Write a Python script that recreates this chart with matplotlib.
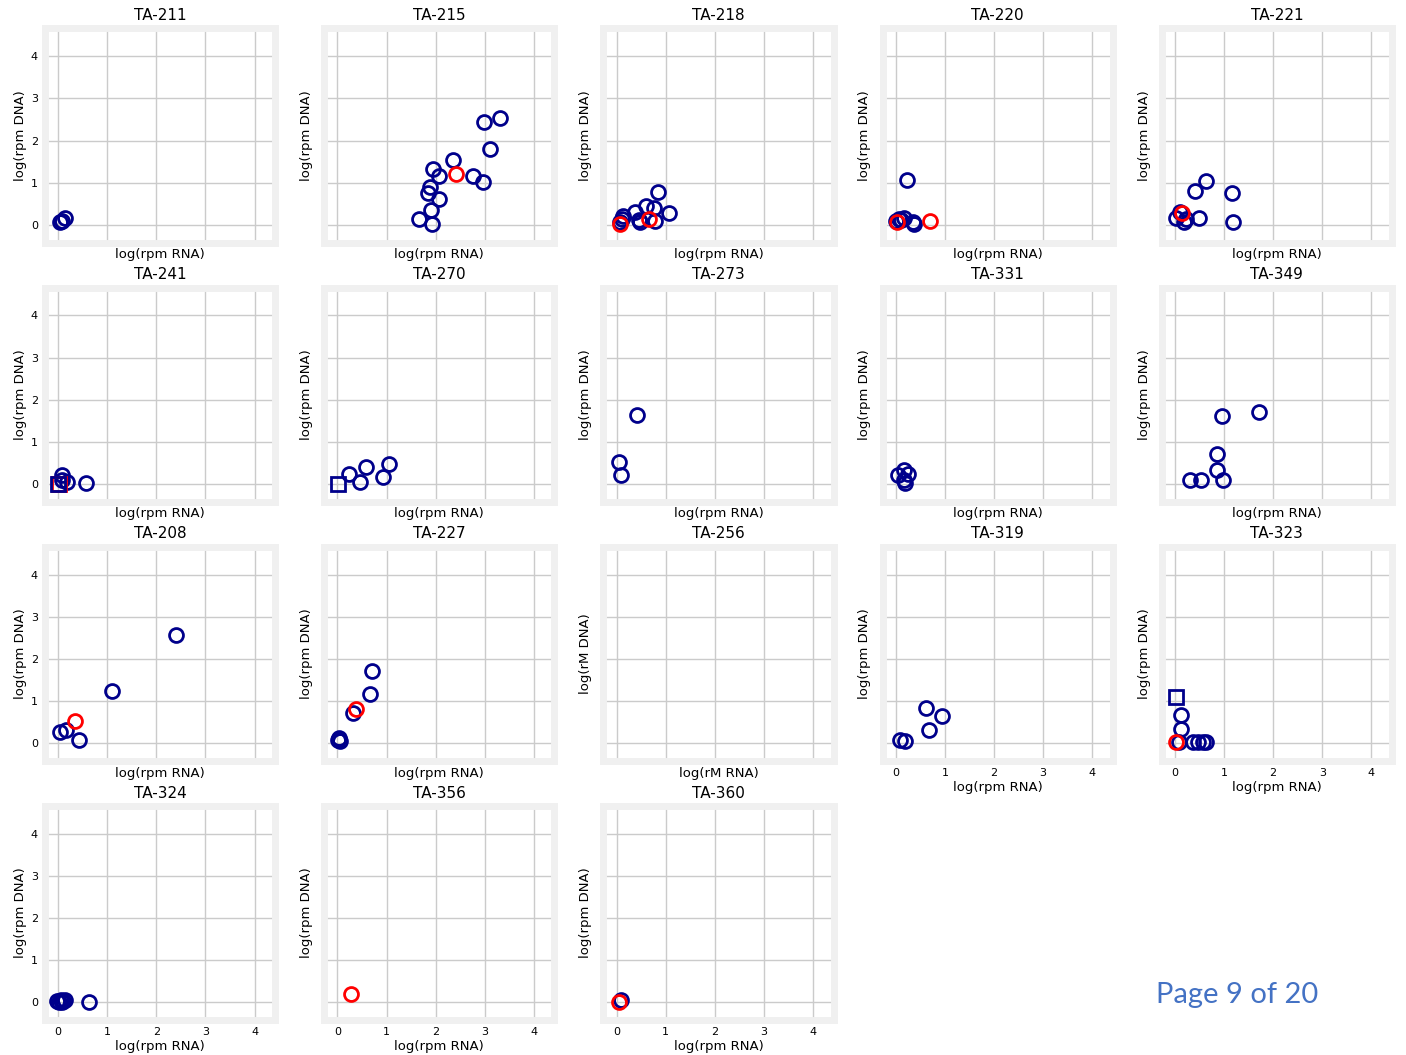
import matplotlib
matplotlib.use("Agg")
import matplotlib.pyplot as plt

# sample ids, in grid order
samples = ["TA-211", "TA-215", "TA-218", "TA-220", "TA-221",
           "TA-241", "TA-270", "TA-273", "TA-331", "TA-349",
           "TA-208", "TA-227", "TA-256", "TA-319", "TA-323",
           "TA-324", "TA-356", "TA-360"]

# units used in the axis labels
units = ["rpm"] * 12 + ["rM"] + ["rpm"] * 5

# log(rpm RNA) / log(rpm DNA) for the blue circles
rna_blue = [
    [0.03, 0.07, 0.13],
    [2.99, 3.32, 3.10, 2.36, 2.77, 2.97, 1.94, 2.06, 1.88, 1.85, 2.07, 1.91, 1.66, 1.92],
    [0.85, 0.60, 0.77, 1.07, 0.38, 0.12, 0.10, 0.45, 0.47, 0.78, 0.06],
    [0.22, 0.00, 0.17, 0.10, 0.34, 0.38, 0.06],
    [0.64, 0.41, 1.17, 0.10, 0.01, 0.22, 0.48, 0.19, 1.19],
    [0.07, 0.17, 0.08, 0.56],
    [0.24, 0.46, 0.58, 0.93, 1.05],
    [0.04, 0.08, 0.41],
    [0.05, 0.17, 0.25, 0.17, 0.19],
    [1.72, 0.96, 0.85, 0.86, 0.30, 0.52, 0.98],
    [2.40, 1.09, 0.04, 0.16, 0.43],
    [0.70, 0.66, 0.31, 0.04, 0.06, 0.02],
    [],
    [0.62, 0.95, 0.68, 0.09, 0.19],
    [0.13, 0.13, 0.37, 0.08, 0.47, 0.58, 0.63],
    [-0.02, 0.05, 0.10, 0.07, 0.02, 0.13, 0.62],
    [],
    [0.08],
]
dna_blue = [
    [0.08, 0.10, 0.17],
    [2.45, 2.53, 1.80, 1.54, 1.16, 1.02, 1.32, 1.16, 0.89, 0.77, 0.61, 0.36, 0.15, 0.03],
    [0.79, 0.44, 0.41, 0.29, 0.31, 0.21, 0.13, 0.12, 0.07, 0.10, 0.08],
    [1.06, 0.10, 0.17, 0.12, 0.07, 0.02, 0.14],
    [1.04, 0.80, 0.76, 0.31, 0.16, 0.13, 0.16, 0.07, 0.07],
    [0.22, 0.04, 0.10, 0.02],
    [0.23, 0.06, 0.40, 0.17, 0.47],
    [0.52, 0.21, 1.64],
    [0.21, 0.33, 0.24, 0.09, 0.02],
    [1.72, 1.62, 0.72, 0.34, 0.10, 0.10, 0.10],
    [2.56, 1.23, 0.26, 0.31, 0.07],
    [1.71, 1.16, 0.71, 0.12, 0.05, 0.07],
    [],
    [0.83, 0.64, 0.31, 0.07, 0.05],
    [0.67, 0.34, 0.03, 0.02, 0.03, 0.02, 0.02],
    [0.04, 0.06, 0.04, 0.01, 0.02, 0.06, 0.02],
    [],
    [0.06],
]

# red circles
rna_red = [[], [2.42], [0.65, 0.07], [0.03, 0.69], [0.15], [], [], [], [], [],
           [0.34], [0.37], [], [], [0.01], [], [0.27], [0.05]]
dna_red = [[], [1.20], [0.13, 0.03], [0.08, 0.10], [0.29], [], [], [], [], [],
           [0.52], [0.81], [], [], [0.03], [], [0.21], [0.02]]

# squares
rna_sq = [[], [], [], [], [], [0.00], [0.02], [], [], [],
          [], [], [], [], [0.02], [], [], []]
dna_sq = [[], [], [], [], [], [0.00], [0.00], [], [], [],
          [], [], [], [], [1.10], [], [], []]
rna_sq_red = [[], [], [], [], [], [0.02], [], [], [], [],
              [], [], [], [], [], [], [], []]
dna_sq_red = [[], [], [], [], [], [0.01], [], [], [], [],
              [], [], [], [], [], [], [], []]

ticks = [0, 1, 2, 3, 4]
# panels that keep their x tick labels
x_labelled = {"TA-319", "TA-323", "TA-324", "TA-356", "TA-360"}

blue = "#00008b"
red = "#ff0000"
mk = dict(ms=10, mew=2, mfc="none", ls="none")

fig, axes = plt.subplots(4, 5, figsize=(14.06, 10.55), dpi=100)
fig.subplots_adjust(left=0.032, right=0.99, bottom=0.033, top=0.973,
                    wspace=0.213, hspace=0.21)
flat = axes.ravel()

for i, ax in enumerate(flat):
    if i >= len(samples):
        ax.remove()
        continue
    name = samples[i]
    ax.set_facecolor("white")
    ax.grid(True, color="#cbcbcb", lw=1.0, zorder=0)
    ax.set_axisbelow(True)
    for sp in ax.spines.values():
        sp.set_color("#f0f0f0")
        sp.set_linewidth(5)

    ax.plot(rna_blue[i], dna_blue[i], "o", mec=blue, **mk, zorder=3)
    ax.plot(rna_red[i], dna_red[i], "o", mec=red, **mk, zorder=4)
    ax.plot(rna_sq_red[i], dna_sq_red[i], "s", mec=red, **mk, zorder=3)
    ax.plot(rna_sq[i], dna_sq[i], "s", mec=blue, **mk, zorder=4)

    ax.set_xlim(-0.27, 4.42)
    ax.set_ylim(-0.42, 4.66)
    ax.set_xticks(ticks)
    ax.set_yticks(ticks)
    ax.tick_params(length=0, labelsize=8, pad=5)
    if i % 5 != 0:
        ax.set_yticklabels([])
    xpad = 2
    if name not in x_labelled:
        ax.set_xticklabels([])
        xpad = -1

    ax.set_title(name, fontsize=11, pad=6)
    ax.set_xlabel(f"log({units[i]} RNA)", fontsize=9.5, labelpad=xpad)
    ax.set_ylabel(f"log({units[i]} DNA)", fontsize=9.5, labelpad=3)

fig.text(0.88, 0.057, "Page 9 of 20", fontsize=21, color="#4472c4",
         family=["Lato", "DejaVu Sans"], ha="center", va="center")

fig.savefig("out.png", dpi=100, facecolor="white")
